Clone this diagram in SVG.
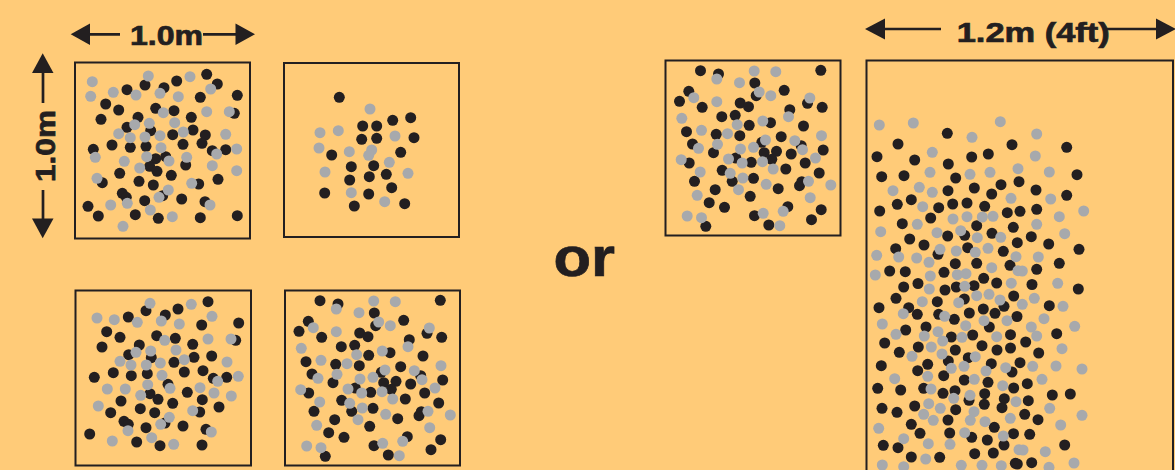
<svg xmlns="http://www.w3.org/2000/svg" width="1175" height="470" viewBox="0 0 1175 470">
<style>
.bg{fill:#FFCB78}
.box{fill:none;stroke:#231F20;stroke-width:2}
.b{fill:#231F20}
.g{fill:#A7A9AC}
circle{r:5.5px}
.lbl{font-family:"Liberation Sans",Arial,sans-serif;font-weight:bold;fill:#231F20;stroke:#231F20;stroke-width:0.7}
.dim{stroke:#231F20;stroke-width:2.7;fill:none}
.head{fill:#231F20}
</style>
<defs>
<g id="pat4">
<rect class="box" x="285" y="290.5" width="175" height="175"/>
<g class="b">
<circle cx="320" cy="300.7"/><circle cx="338" cy="304"/><circle cx="440.3" cy="300.3"/><circle cx="374.3" cy="313"/><circle cx="308.3" cy="321.3"/><circle cx="299" cy="331.3"/><circle cx="403.7" cy="320.3"/><circle cx="375.7" cy="325.7"/><circle cx="359.7" cy="333"/><circle cx="368" cy="336.7"/><circle cx="321.7" cy="337.3"/><circle cx="427" cy="333.3"/><circle cx="441.7" cy="337.3"/><circle cx="409.3" cy="339.7"/><circle cx="341.3" cy="346.7"/><circle cx="354.7" cy="345.3"/><circle cx="390" cy="352.7"/><circle cx="368.7" cy="355.3"/><circle cx="423" cy="356"/><circle cx="306" cy="361.7"/><circle cx="335.7" cy="364.3"/><circle cx="359.3" cy="365.7"/><circle cx="400.7" cy="366.7"/><circle cx="312" cy="374"/><circle cx="333" cy="382.7"/><circle cx="381.3" cy="372.3"/><circle cx="396" cy="381.3"/><circle cx="383.7" cy="382.7"/><circle cx="410.7" cy="384"/><circle cx="420.7" cy="375.7"/><circle cx="442.7" cy="380"/><circle cx="308.7" cy="393"/><circle cx="355.3" cy="388"/><circle cx="370.7" cy="392.3"/><circle cx="391.3" cy="389.3"/><circle cx="424.7" cy="393"/><circle cx="341.7" cy="400.3"/><circle cx="351.7" cy="411.3"/><circle cx="373" cy="408.3"/><circle cx="405.3" cy="399"/><circle cx="438.7" cy="403"/><circle cx="314" cy="411.3"/><circle cx="419" cy="415.7"/><circle cx="421.3" cy="411.7"/><circle cx="334.7" cy="419.7"/><circle cx="397.7" cy="418.7"/><circle cx="369.7" cy="426.3"/><circle cx="328.7" cy="432.7"/><circle cx="344" cy="437.3"/><circle cx="407.3" cy="436.7"/><circle cx="440.7" cy="439.7"/><circle cx="374" cy="445.7"/><circle cx="325.3" cy="456.3"/><circle cx="388.3" cy="455"/><circle cx="431" cy="449.7"/>
</g>
<g class="g">
<circle cx="336.3" cy="309"/><circle cx="373.7" cy="301"/><circle cx="395.3" cy="301.7"/><circle cx="359" cy="312.7"/><circle cx="313.3" cy="327.7"/><circle cx="378.7" cy="322"/><circle cx="390.3" cy="325.7"/><circle cx="336.3" cy="331.7"/><circle cx="429.3" cy="328"/><circle cx="408" cy="346.7"/><circle cx="301.3" cy="348.3"/><circle cx="382.3" cy="351"/><circle cx="356.7" cy="354.7"/><circle cx="321" cy="360.3"/><circle cx="347" cy="363.7"/><circle cx="441" cy="365.7"/><circle cx="318" cy="378.3"/><circle cx="337" cy="374.3"/><circle cx="360" cy="379"/><circle cx="373" cy="377.3"/><circle cx="385" cy="370"/><circle cx="414.3" cy="370.7"/><circle cx="422" cy="379.7"/><circle cx="300.7" cy="389.7"/><circle cx="348" cy="389"/><circle cx="361.7" cy="393"/><circle cx="382" cy="391.7"/><circle cx="435" cy="388"/><circle cx="319.7" cy="402"/><circle cx="349.7" cy="403.3"/><circle cx="362.3" cy="408"/><circle cx="392.7" cy="399"/><circle cx="385.7" cy="414.3"/><circle cx="428" cy="411.3"/><circle cx="450.3" cy="415"/><circle cx="358" cy="419.7"/><circle cx="316.7" cy="425.3"/><circle cx="429.7" cy="427.7"/><circle cx="402.7" cy="441.3"/><circle cx="382.7" cy="443.3"/><circle cx="306.7" cy="446"/><circle cx="321" cy="447.7"/><circle cx="399.3" cy="455.7"/>
</g>
</g>
</defs>
<rect class="bg" x="0" y="0" width="1175" height="470"/>

<g id="box1">
<rect class="box" x="75" y="62.5" width="175" height="176"/>
<g class="b">
<circle cx="145" cy="85"/><circle cx="164" cy="87.7"/><circle cx="176.7" cy="81"/><circle cx="206.7" cy="74.3"/><circle cx="217.3" cy="84"/><circle cx="237.3" cy="95.3"/><circle cx="200.3" cy="97.3"/><circle cx="127" cy="89.7"/><circle cx="105.7" cy="104"/><circle cx="118.7" cy="110"/><circle cx="155.7" cy="108.3"/><circle cx="174" cy="110.7"/><circle cx="234.3" cy="113.3"/><circle cx="101" cy="119.3"/><circle cx="138" cy="117.3"/><circle cx="127" cy="127.3"/><circle cx="150.7" cy="130.7"/><circle cx="191.3" cy="117.3"/><circle cx="193" cy="130"/><circle cx="172.7" cy="134.7"/><circle cx="205.3" cy="135"/><circle cx="202" cy="143.3"/><circle cx="93.3" cy="149.3"/><circle cx="112" cy="145"/><circle cx="130.3" cy="147.3"/><circle cx="146" cy="146.3"/><circle cx="183" cy="144.3"/><circle cx="212.3" cy="150.7"/><circle cx="225.7" cy="149.7"/><circle cx="155.7" cy="158.7"/><circle cx="165.7" cy="156.7"/><circle cx="185.7" cy="165"/><circle cx="149.7" cy="166.3"/><circle cx="119.7" cy="173.3"/><circle cx="157" cy="171.3"/><circle cx="171.3" cy="175.3"/><circle cx="102.3" cy="182.7"/><circle cx="139" cy="181.3"/><circle cx="153.3" cy="185"/><circle cx="198.7" cy="184"/><circle cx="218" cy="179.3"/><circle cx="122.3" cy="193.3"/><circle cx="126.3" cy="197.3"/><circle cx="162.7" cy="195.7"/><circle cx="144.7" cy="200.7"/><circle cx="181.7" cy="199"/><circle cx="205" cy="201.7"/><circle cx="88" cy="206.3"/><circle cx="98.3" cy="216"/><circle cx="135.3" cy="214.7"/><circle cx="158.3" cy="218.3"/><circle cx="200.3" cy="217.7"/><circle cx="237.3" cy="215.7"/>
</g>
<g class="g">
<circle cx="92.3" cy="81.7"/><circle cx="90.7" cy="96.3"/><circle cx="148.3" cy="76"/><circle cx="160" cy="93.3"/><circle cx="190" cy="76.7"/><circle cx="210.7" cy="89"/><circle cx="178.3" cy="96.7"/><circle cx="136" cy="95"/><circle cx="113.3" cy="92.3"/><circle cx="163.3" cy="112.7"/><circle cx="206.7" cy="111.7"/><circle cx="229.3" cy="111.7"/><circle cx="134.7" cy="124.7"/><circle cx="149.3" cy="123.3"/><circle cx="174.7" cy="122.7"/><circle cx="183.3" cy="132"/><circle cx="118.7" cy="133.7"/><circle cx="130.3" cy="137.7"/><circle cx="145" cy="137"/><circle cx="160" cy="135.7"/><circle cx="225.7" cy="134.3"/><circle cx="95.3" cy="157.3"/><circle cx="161" cy="147.7"/><circle cx="216.7" cy="154"/><circle cx="236.7" cy="149"/><circle cx="124.3" cy="161.3"/><circle cx="146.7" cy="156.7"/><circle cx="169" cy="161"/><circle cx="186.7" cy="157.3"/><circle cx="139.7" cy="168"/><circle cx="212.3" cy="165.7"/><circle cx="236.7" cy="170.7"/><circle cx="97" cy="178.3"/><circle cx="191.7" cy="183.3"/><circle cx="168.3" cy="190"/><circle cx="127.3" cy="203.3"/><circle cx="159" cy="197.3"/><circle cx="210" cy="205"/><circle cx="110.7" cy="205"/><circle cx="150.3" cy="210"/><circle cx="172.3" cy="216.7"/><circle cx="123" cy="226.3"/>
</g>
</g>

<g id="box2">
<rect class="box" x="284" y="63" width="175" height="174"/>
<g class="b">
<circle cx="339.3" cy="97.3"/><circle cx="362.7" cy="126"/><circle cx="376.7" cy="126"/><circle cx="392.7" cy="120.3"/><circle cx="410.7" cy="117.7"/><circle cx="361.7" cy="139.3"/><circle cx="376.7" cy="138.3"/><circle cx="414" cy="137.7"/><circle cx="331.7" cy="155"/><circle cx="400.7" cy="152.3"/><circle cx="351.3" cy="166.7"/><circle cx="373.7" cy="165.7"/><circle cx="349.7" cy="180"/><circle cx="369.3" cy="176.7"/><circle cx="386.3" cy="174.3"/><circle cx="324.7" cy="193"/><circle cx="368.7" cy="194"/><circle cx="391.7" cy="187.7"/><circle cx="354.3" cy="206"/><circle cx="404.7" cy="203.7"/>
</g>
<g class="g">
<circle cx="370" cy="109"/><circle cx="320" cy="132.7"/><circle cx="338.3" cy="130.7"/><circle cx="395" cy="136"/><circle cx="319" cy="148"/><circle cx="349.3" cy="151.7"/><circle cx="371.7" cy="150"/><circle cx="368.7" cy="155.3"/><circle cx="389.3" cy="162.3"/><circle cx="325" cy="172"/><circle cx="408" cy="173.3"/><circle cx="351.3" cy="192.7"/><circle cx="384.7" cy="201.7"/>
</g>
</g>

<g id="box3">
<rect class="box" x="75.5" y="290.5" width="175.5" height="175"/>
<g class="b">
<circle cx="146" cy="310.7"/><circle cx="208" cy="301.7"/><circle cx="178" cy="309"/><circle cx="165.3" cy="315"/><circle cx="128.3" cy="317"/><circle cx="201.7" cy="325"/><circle cx="238.7" cy="323"/><circle cx="106.7" cy="331.7"/><circle cx="120" cy="337.3"/><circle cx="156.7" cy="335.7"/><circle cx="175.3" cy="338.3"/><circle cx="235.7" cy="340.3"/><circle cx="102" cy="347"/><circle cx="139.3" cy="345"/><circle cx="192.7" cy="344.3"/><circle cx="128.7" cy="354.7"/><circle cx="151.3" cy="357.7"/><circle cx="194" cy="357.3"/><circle cx="211.7" cy="356"/><circle cx="174" cy="362.3"/><circle cx="94.3" cy="377.3"/><circle cx="113.3" cy="372.7"/><circle cx="131.3" cy="375.7"/><circle cx="147.3" cy="373.7"/><circle cx="184.3" cy="372"/><circle cx="203" cy="370.7"/><circle cx="213.3" cy="378.3"/><circle cx="226.7" cy="377.3"/><circle cx="168" cy="384.3"/><circle cx="150" cy="393.7"/><circle cx="158" cy="399.3"/><circle cx="187.3" cy="392.3"/><circle cx="121" cy="401"/><circle cx="202.3" cy="399.7"/><circle cx="172.7" cy="403.3"/><circle cx="140.3" cy="408.7"/><circle cx="219" cy="407"/><circle cx="110.7" cy="412.7"/><circle cx="154.7" cy="412.7"/><circle cx="199.7" cy="412"/><circle cx="124" cy="421.3"/><circle cx="128.3" cy="424.3"/><circle cx="165" cy="423"/><circle cx="146" cy="427.7"/><circle cx="183" cy="426"/><circle cx="206" cy="429.3"/><circle cx="89.7" cy="434"/><circle cx="136.7" cy="442"/><circle cx="160" cy="445.7"/><circle cx="202" cy="445"/>
</g>
<g class="g">
<circle cx="150" cy="303.3"/><circle cx="191.3" cy="304.3"/><circle cx="161.3" cy="321"/><circle cx="97" cy="318"/><circle cx="114.3" cy="319.7"/><circle cx="137.3" cy="322.3"/><circle cx="179.3" cy="324"/><circle cx="212" cy="316.3"/><circle cx="164.7" cy="340.3"/><circle cx="208" cy="339"/><circle cx="231" cy="339"/><circle cx="176" cy="350"/><circle cx="136" cy="352.3"/><circle cx="150.7" cy="351"/><circle cx="184.3" cy="359.7"/><circle cx="120" cy="361.3"/><circle cx="131" cy="365"/><circle cx="146.3" cy="365"/><circle cx="160.3" cy="363"/><circle cx="227" cy="362"/><circle cx="162" cy="375.3"/><circle cx="217.7" cy="381.3"/><circle cx="238.3" cy="376.3"/><circle cx="107.3" cy="389"/><circle cx="125.3" cy="389"/><circle cx="147.7" cy="384.7"/><circle cx="170" cy="388.3"/><circle cx="200" cy="387.7"/><circle cx="140.7" cy="395.3"/><circle cx="214" cy="393"/><circle cx="231.3" cy="396"/><circle cx="98.3" cy="406"/><circle cx="192.7" cy="410.7"/><circle cx="169.3" cy="417.3"/><circle cx="160.7" cy="424.3"/><circle cx="128" cy="430.7"/><circle cx="211.3" cy="432"/><circle cx="151.7" cy="437.7"/><circle cx="112.3" cy="441"/><circle cx="173.7" cy="444.3"/>
</g>
</g>

<g id="box4">
<use href="#pat4"/>
</g>

<g id="box5">
<use href="#pat4" transform="translate(380.5,-230)"/>
</g>

<g id="box6">
<rect class="box" x="866.5" y="60.5" width="306.5" height="420"/>
<g class="b">
<circle cx="947.3" cy="133.3"/><circle cx="898" cy="144"/><circle cx="1012" cy="144.7"/><circle cx="877" cy="156.7"/><circle cx="914.7" cy="160"/><circle cx="948.3" cy="164"/><circle cx="971.7" cy="157"/><circle cx="988.3" cy="154"/><circle cx="881.7" cy="176.7"/><circle cx="904" cy="175.7"/><circle cx="955.7" cy="178"/><circle cx="1001" cy="184.7"/><circle cx="1019" cy="181.7"/><circle cx="948" cy="190.7"/><circle cx="974.3" cy="188"/><circle cx="991.7" cy="194"/><circle cx="911.3" cy="199.7"/><circle cx="897.3" cy="204.3"/><circle cx="938.7" cy="207.7"/><circle cx="952.7" cy="204"/><circle cx="967" cy="203"/><circle cx="984.7" cy="206.3"/><circle cx="879.7" cy="211"/><circle cx="1007.3" cy="212.7"/><circle cx="1020" cy="211.3"/><circle cx="930.7" cy="218"/><circle cx="902.3" cy="223.7"/><circle cx="976.7" cy="225.7"/><circle cx="1013.3" cy="227.3"/><circle cx="964.7" cy="235.3"/><circle cx="947.7" cy="236"/><circle cx="992" cy="233.3"/><circle cx="909.7" cy="239"/><circle cx="924" cy="245"/><circle cx="1017.3" cy="242.7"/><circle cx="895.7" cy="248.7"/><circle cx="967.7" cy="247.7"/><circle cx="1003.3" cy="251.3"/><circle cx="938" cy="254.3"/><circle cx="955.3" cy="263.7"/><circle cx="976.7" cy="263.3"/><circle cx="1010" cy="265.3"/><circle cx="889.7" cy="271"/><circle cx="905.3" cy="271.7"/><circle cx="944" cy="272.3"/><circle cx="983.7" cy="278.3"/><circle cx="903.7" cy="287"/><circle cx="918" cy="283.5"/><circle cx="996.7" cy="283"/><circle cx="945" cy="290"/><circle cx="956.3" cy="287"/><circle cx="974" cy="285.7"/>
<circle cx="1066.7" cy="147.3"/><circle cx="1077" cy="174.7"/><circle cx="1036" cy="190"/><circle cx="1066.7" cy="195.3"/><circle cx="1036.7" cy="209.3"/><circle cx="1031.3" cy="236.7"/><circle cx="1048.7" cy="244"/><circle cx="1079" cy="249.3"/><circle cx="1036.7" cy="269.3"/><circle cx="1059.3" cy="263.3"/><circle cx="1032" cy="284.5"/><circle cx="1078.3" cy="289"/>
<circle cx="896" cy="298.3"/><circle cx="937.3" cy="301.7"/><circle cx="964.3" cy="299"/><circle cx="1013.7" cy="296"/><circle cx="879" cy="307.7"/><circle cx="908.7" cy="307.7"/><circle cx="917.3" cy="314.3"/><circle cx="938.7" cy="314.3"/><circle cx="954.3" cy="319.3"/><circle cx="969.3" cy="313"/><circle cx="983.3" cy="309"/><circle cx="995" cy="313.3"/><circle cx="1004" cy="306.3"/><circle cx="1017" cy="316.5"/><circle cx="926" cy="327"/><circle cx="989.3" cy="327"/><circle cx="905.7" cy="330"/><circle cx="951.3" cy="337"/><circle cx="972.7" cy="335"/><circle cx="1010.5" cy="334.7"/><circle cx="884.7" cy="343"/><circle cx="918.3" cy="347"/><circle cx="955.3" cy="350"/><circle cx="982" cy="345.7"/><circle cx="997" cy="350"/><circle cx="1010.5" cy="348"/><circle cx="899.3" cy="352.3"/><circle cx="948.3" cy="361"/><circle cx="968.3" cy="357.7"/><circle cx="991.3" cy="363.7"/><circle cx="1012" cy="372"/><circle cx="881.3" cy="365.7"/><circle cx="927.7" cy="364.3"/><circle cx="917.7" cy="370.7"/><circle cx="943.7" cy="375.7"/><circle cx="964.3" cy="380"/><circle cx="988" cy="382.3"/><circle cx="877.7" cy="388.3"/><circle cx="900.7" cy="390"/><circle cx="923.7" cy="388.3"/><circle cx="943" cy="393.3"/><circle cx="955" cy="390.7"/><circle cx="1013.7" cy="388"/><circle cx="969" cy="400.3"/><circle cx="984.7" cy="393.7"/><circle cx="1004.3" cy="398.7"/><circle cx="1002" cy="407.7"/><circle cx="914.7" cy="406"/><circle cx="882" cy="408.3"/><circle cx="897" cy="412.3"/><circle cx="955.7" cy="409.7"/><circle cx="984.3" cy="404.3"/><circle cx="948" cy="420"/><circle cx="911.3" cy="424.3"/><circle cx="920" cy="433.3"/><circle cx="994.3" cy="427.3"/><circle cx="949.7" cy="433"/><circle cx="971.7" cy="437.3"/><circle cx="987.3" cy="440"/><circle cx="1013.5" cy="433.7"/><circle cx="883.3" cy="445.3"/><circle cx="898" cy="447.7"/><circle cx="1004" cy="445"/><circle cx="974.7" cy="453.7"/><circle cx="993.3" cy="453"/><circle cx="911.3" cy="457"/><circle cx="939.7" cy="457.3"/><circle cx="1015.3" cy="463.3"/>
<circle cx="1049.3" cy="305.7"/><circle cx="1056.7" cy="333.7"/><circle cx="1025.7" cy="342"/><circle cx="1038.7" cy="353"/><circle cx="1020" cy="362.7"/><circle cx="1027.3" cy="383.7"/><circle cx="1052.3" cy="395"/><circle cx="1070.3" cy="394"/><circle cx="1028.3" cy="400.7"/><circle cx="1024.7" cy="414.3"/><circle cx="1038" cy="419.7"/><circle cx="1029.7" cy="434.3"/><circle cx="1064.7" cy="445"/><circle cx="1017.3" cy="464"/><circle cx="1031.7" cy="462.7"/>
</g>
<g class="g">
<circle cx="879.3" cy="125"/><circle cx="913.3" cy="123"/><circle cx="1000.3" cy="121.7"/><circle cx="972" cy="137.3"/><circle cx="932.3" cy="152.3"/><circle cx="1018" cy="168.7"/><circle cx="930" cy="172.3"/><circle cx="970" cy="174.3"/><circle cx="990" cy="172.3"/><circle cx="893" cy="190.7"/><circle cx="919.3" cy="187.3"/><circle cx="932.3" cy="192.3"/><circle cx="1011" cy="198.3"/><circle cx="922.7" cy="206.7"/><circle cx="953" cy="219"/><circle cx="967" cy="216.7"/><circle cx="982.3" cy="217"/><circle cx="993" cy="216.3"/><circle cx="917.3" cy="224.3"/><circle cx="880.7" cy="231.7"/><circle cx="937" cy="232.7"/><circle cx="960.7" cy="230.7"/><circle cx="977.3" cy="237.7"/><circle cx="1000.7" cy="237.3"/><circle cx="940" cy="249.3"/><circle cx="988" cy="248.3"/><circle cx="876.7" cy="255.3"/><circle cx="898.7" cy="257"/><circle cx="916.7" cy="258"/><circle cx="956.3" cy="251"/><circle cx="975.3" cy="252.3"/><circle cx="1016" cy="256.7"/><circle cx="929" cy="262.3"/><circle cx="991.7" cy="267.7"/><circle cx="957.3" cy="274.7"/><circle cx="966" cy="273.7"/><circle cx="1018" cy="270.7"/><circle cx="875.3" cy="275"/><circle cx="930.3" cy="276"/><circle cx="1011.3" cy="283.2"/><circle cx="929.3" cy="289"/><circle cx="964.8" cy="286.3"/>
<circle cx="1036.7" cy="134"/><circle cx="1035.3" cy="156"/><circle cx="1049.3" cy="172"/><circle cx="1050.7" cy="199"/><circle cx="1059.3" cy="216.7"/><circle cx="1083.7" cy="211"/><circle cx="1036.7" cy="224.3"/><circle cx="1064.7" cy="233.7"/><circle cx="1038.3" cy="257"/><circle cx="1022.3" cy="271"/><circle cx="1057.7" cy="283.3"/>
<circle cx="922.3" cy="301.7"/><circle cx="958.7" cy="302.7"/><circle cx="976.7" cy="295.7"/><circle cx="989" cy="294.3"/><circle cx="1000" cy="300"/><circle cx="903.3" cy="313.7"/><circle cx="944.7" cy="316.3"/><circle cx="1007" cy="320.7"/><circle cx="882.3" cy="324"/><circle cx="984" cy="320.7"/><circle cx="965.7" cy="325.7"/><circle cx="896" cy="334.3"/><circle cx="924.3" cy="336"/><circle cx="938" cy="331.7"/><circle cx="962" cy="337.3"/><circle cx="996.7" cy="336.7"/><circle cx="942.7" cy="341"/><circle cx="931.3" cy="347"/><circle cx="912" cy="356.3"/><circle cx="942" cy="354"/><circle cx="975.3" cy="356.7"/><circle cx="1005.7" cy="367.7"/><circle cx="951.3" cy="368.3"/><circle cx="964" cy="366.3"/><circle cx="986" cy="371"/><circle cx="927.7" cy="376.3"/><circle cx="974.3" cy="379.3"/><circle cx="894.7" cy="378.7"/><circle cx="931" cy="389"/><circle cx="1002.7" cy="385.7"/><circle cx="953.7" cy="398.3"/><circle cx="970" cy="395.3"/><circle cx="1016" cy="401.7"/><circle cx="928.7" cy="403.7"/><circle cx="923.7" cy="414.3"/><circle cx="940.3" cy="408.3"/><circle cx="974" cy="411.7"/><circle cx="933.3" cy="420.3"/><circle cx="970.3" cy="420.3"/><circle cx="985" cy="421.7"/><circle cx="1010.3" cy="418.3"/><circle cx="878.7" cy="428.3"/><circle cx="964.7" cy="432.7"/><circle cx="1003.3" cy="436"/><circle cx="903.7" cy="438.7"/><circle cx="928.3" cy="443.7"/><circle cx="950" cy="444.3"/><circle cx="925.7" cy="459"/><circle cx="882.3" cy="465"/><circle cx="903.7" cy="466.7"/><circle cx="961.3" cy="465.3"/><circle cx="982" cy="465.3"/><circle cx="1001.3" cy="465.7"/><circle cx="1019" cy="449.7"/>
<circle cx="1034.3" cy="298.3"/><circle cx="1022.3" cy="304.3"/><circle cx="1063" cy="306.3"/><circle cx="1044" cy="318.7"/><circle cx="1074.7" cy="326.3"/><circle cx="1031.3" cy="327"/><circle cx="1036.7" cy="336"/><circle cx="1062" cy="348.7"/><circle cx="1032.7" cy="366.3"/><circle cx="1056" cy="366"/><circle cx="1082" cy="369"/><circle cx="1042" cy="379.3"/><circle cx="1049.7" cy="408.3"/><circle cx="1082" cy="415.3"/><circle cx="1060.7" cy="425"/><circle cx="1023" cy="450"/><circle cx="1045.3" cy="451.7"/><circle cx="1049" cy="467.3"/><circle cx="1074" cy="463"/>
</g>
</g>

<g id="connectors">
<line class="dim" x1="86" y1="34.3" x2="120" y2="34.3"/>
<polygon class="head" points="70.7,34.3 90,23.5 90,45"/>
<line class="dim" x1="203" y1="34.3" x2="239" y2="34.3"/>
<polygon class="head" points="255,34.3 235.5,23.5 235.5,45"/>
<line class="dim" x1="43" y1="70" x2="43" y2="103"/>
<polygon class="head" points="42.7,53.3 32,73 53.5,73"/>
<line class="dim" x1="43" y1="190" x2="43" y2="221"/>
<polygon class="head" points="42.7,238.3 32,218.5 53.5,218.5"/>
<line class="dim" x1="881" y1="29" x2="941" y2="29"/>
<polygon class="head" points="865,29 885,18.5 885,39.5"/>
<line class="dim" x1="1103" y1="29" x2="1160" y2="29"/>
<polygon class="head" points="1176,29 1156,18.5 1156,39.5"/>
</g>

<g id="labels">
<text class="lbl" x="130" y="45" font-size="27" textLength="73" lengthAdjust="spacingAndGlyphs">1.0m</text>
<text class="lbl" transform="translate(55,146) rotate(-90)" x="0" y="0" text-anchor="middle" font-size="27" textLength="72" lengthAdjust="spacingAndGlyphs">1.0m</text>
<text class="lbl" x="956.7" y="42.3" font-size="28" textLength="153" lengthAdjust="spacingAndGlyphs">1.2m (4ft)</text>
<text class="lbl" x="553.5" y="276" font-size="56" textLength="61.5" lengthAdjust="spacingAndGlyphs">or</text>
</g>
</svg>
